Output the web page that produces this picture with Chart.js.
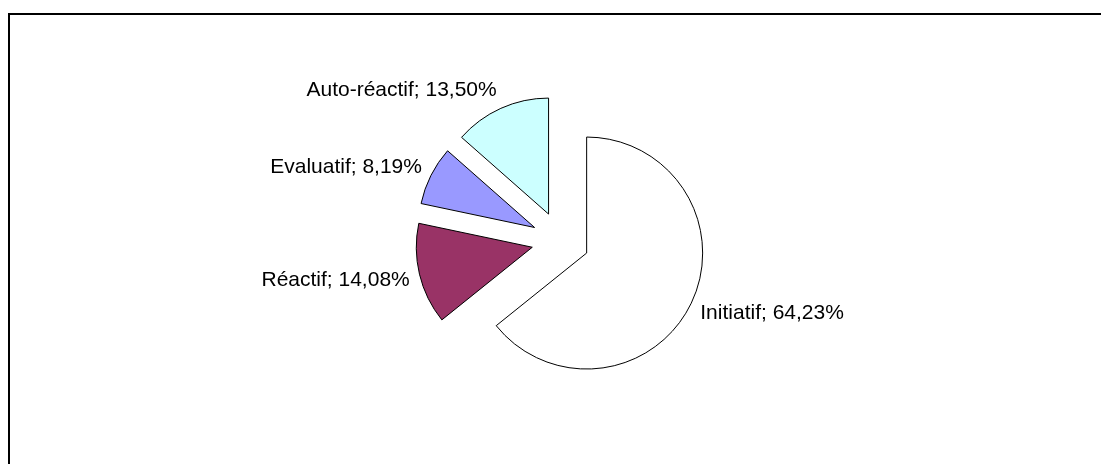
<!DOCTYPE html>
<html>
<head>
<meta charset="utf-8">
<script src="https://cdn.jsdelivr.net/npm/chart.js@4"></script>
<style>
  html, body { margin: 0; padding: 0; background: #fff; }
  #wrap { position: relative; width: 1101px; height: 464px; overflow: hidden; }
  #frame { position: absolute; left: 8px; top: 13px; width: 2000px; height: 2000px;
           border-left: 2px solid #000; border-top: 2px solid #000; }
  #chartBox { position: absolute; left: 0; top: 0; width: 1101px; height: 464px; }
</style>
</head>
<body>
<div id="wrap">
  <div id="frame"></div>
  <div id="chartBox"><canvas id="pieChart"></canvas></div>
</div>
<script>
const categories = ['Initiatif', 'Réactif', 'Evaluatif', 'Auto-réactif'];
const shares = [64.23, 14.08, 8.19, 13.50];
const sliceColors = ['#FFFFFF', '#993366', '#9999FF', '#CCFFFF'];

const PIE_RADIUS = 116;
const EXPLODE = 29;
const LABEL_GAP = 10;

function formatShare(v) {
  return v.toFixed(2).replace('.', ',') + '%';
}

// pull every slice out along its own middle angle (Excel-style exploded pie)
const explodePlugin = {
  id: 'explode',
  afterDatasetUpdate(chart, args) {
    const meta = chart.getDatasetMeta(args.index);
    meta.data.forEach(arc => {
      const mid = (arc.startAngle + arc.endAngle) / 2;
      arc.x += Math.cos(mid) * EXPLODE;
      arc.y += Math.sin(mid) * EXPLODE;
    });
  }
};

const sliceLabelPlugin = {
  id: 'sliceLabels',
  afterDatasetsDraw(chart) {
    const ctx = chart.ctx;
    const meta = chart.getDatasetMeta(0);
    ctx.save();
    ctx.font = '21px "Liberation Sans", Arial, sans-serif';
    ctx.fillStyle = '#000';
    ctx.textBaseline = 'middle';
    meta.data.forEach((arc, i) => {
      const mid = (arc.startAngle + arc.endAngle) / 2;
      const dx = Math.cos(mid);
      const dy = Math.sin(mid);
      const dist = arc.outerRadius + LABEL_GAP;
      const x = arc.x + dx * dist;
      const y = arc.y + dy * dist + dy * 11 + 1;
      ctx.textAlign = dx >= 0 ? 'left' : 'right';
      ctx.fillText(categories[i] + '; ' + formatShare(shares[i]), x, y);
    });
    ctx.restore();
  }
};

new Chart(document.getElementById('pieChart').getContext('2d'), {
  type: 'pie',
  data: {
    labels: categories,
    datasets: [{
      data: shares,
      backgroundColor: sliceColors,
      borderColor: '#000000',
      borderWidth: 1,
      borderJoinStyle: 'miter'
    }]
  },
  options: {
    responsive: true,
    maintainAspectRatio: false,
    animation: false,
    events: [],
    radius: PIE_RADIUS,
    layout: { padding: { left: 20, top: 17, right: 0, bottom: 0 } },
    plugins: {
      legend: { display: false },
      tooltip: { enabled: false }
    }
  },
  plugins: [explodePlugin, sliceLabelPlugin]
});
</script>
</body>
</html>
